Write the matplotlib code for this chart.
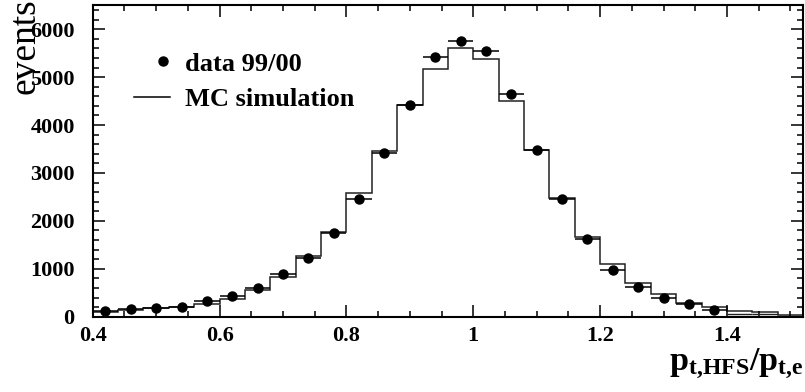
import numpy as np
import matplotlib.pyplot as plt
from matplotlib.lines import Line2D
from matplotlib.legend_handler import HandlerLine2D
from matplotlib.ticker import MultipleLocator

plt.rcParams['font.family'] = ['Liberation Serif', 'DejaVu Serif']
plt.rcParams['font.weight'] = 'bold'
plt.rcParams['mathtext.fontset'] = 'custom'
plt.rcParams['mathtext.bf'] = 'Liberation Serif:bold'
plt.rcParams['mathtext.rm'] = 'Liberation Serif:bold'

# binning of p_t,HFS / p_t,e
bin_edges = np.arange(0.40, 1.52 + 1e-9, 0.04)

# MC simulation, events per bin
mc_counts = [90, 150, 174, 196, 265, 376, 551, 829, 1267, 1768,
             2576, 3450, 4420, 5171, 5616, 5374, 4509, 3487, 2485, 1670,
             1094, 697, 474, 292, 196, 125, 100, 30]

# data 99/00, bin centres and events
data_x = [0.42, 0.46, 0.50, 0.54, 0.58, 0.62, 0.66, 0.70, 0.74, 0.78,
          0.82, 0.86, 0.90, 0.94, 0.98, 1.02, 1.06, 1.10, 1.14, 1.18,
          1.22, 1.26, 1.30, 1.34, 1.38]
data_y = [113, 167, 182, 196, 328, 432, 606, 891, 1225, 1754,
          2451, 3411, 4420, 5422, 5762, 5540, 4656, 3487, 2464, 1616,
          968, 620, 390, 271, 146]

# data tail above 1.4 (bars only)
tail_x = [1.42, 1.46, 1.50]
tail_y = [56, 56, 20]


class RightMarkerHandler(HandlerLine2D):
    """Legend handler that puts the single marker near the right end."""
    def get_xdata(self, legend, xdescent, ydescent, width, height, fontsize):
        # the marker is drawn at the midpoint of these two x values
        xdata = [-xdescent + 0.6 * width, -xdescent + width]
        return xdata, xdata


fig = plt.figure(figsize=(8.05, 3.92), dpi=100)
ax = fig.add_axes([0.1152, 0.1921, 0.8824, 0.7952])

ax.stairs(mc_counts, bin_edges, color='#222222', linewidth=1.1)
ax.errorbar(data_x, data_y, xerr=0.02, fmt='o', color='black',
            markersize=6.5, elinewidth=1.1, capsize=0)
ax.errorbar(tail_x, tail_y, xerr=0.02, fmt='none', ecolor='#222222',
            elinewidth=1.0, capsize=0)

ax.set_xlim(0.40, 1.52)
ax.set_ylim(0, 6505)

ax.xaxis.set_major_locator(MultipleLocator(0.2))
ax.xaxis.set_minor_locator(MultipleLocator(0.05))
ax.yaxis.set_major_locator(MultipleLocator(1000))
ax.yaxis.set_minor_locator(MultipleLocator(200))
ax.xaxis.set_major_formatter(plt.FuncFormatter(lambda v, p: f'{v:g}'))

ax.tick_params(which='both', direction='in', top=True, right=True, width=1.1)
ax.tick_params(which='major', length=8.6)
ax.tick_params(which='minor', length=4.5)
ax.tick_params(axis='x', which='major', labelsize=16, pad=7)
ax.tick_params(axis='y', which='major', labelsize=16, pad=13)
for spine in ax.spines.values():
    spine.set_linewidth(1.5)

ax.set_xlabel(r'$\mathbf{p_{t{,}HFS}/p_{t{,}e}}$', fontsize=24.5, loc='right')
ax.xaxis.set_label_coords(1.0, -0.095)
ax.set_ylabel('events', fontsize=27, loc='top')
ax.yaxis.set_label_coords(-0.071, 1.02)

data_handle = Line2D([], [], marker='o', linestyle='none', color='black',
                     markersize=6.5)
mc_handle = Line2D([], [], color='black', linewidth=1.1)
ax.legend([data_handle, mc_handle], ['data 99/00', 'MC simulation'],
          handler_map={data_handle: RightMarkerHandler(numpoints=1)},
          loc='upper left', bbox_to_anchor=(0.024, 0.925), frameon=False,
          fontsize=19, handlelength=1.4, handletextpad=0.55, labelspacing=0.45)

fig.savefig('out.png', dpi=100)
